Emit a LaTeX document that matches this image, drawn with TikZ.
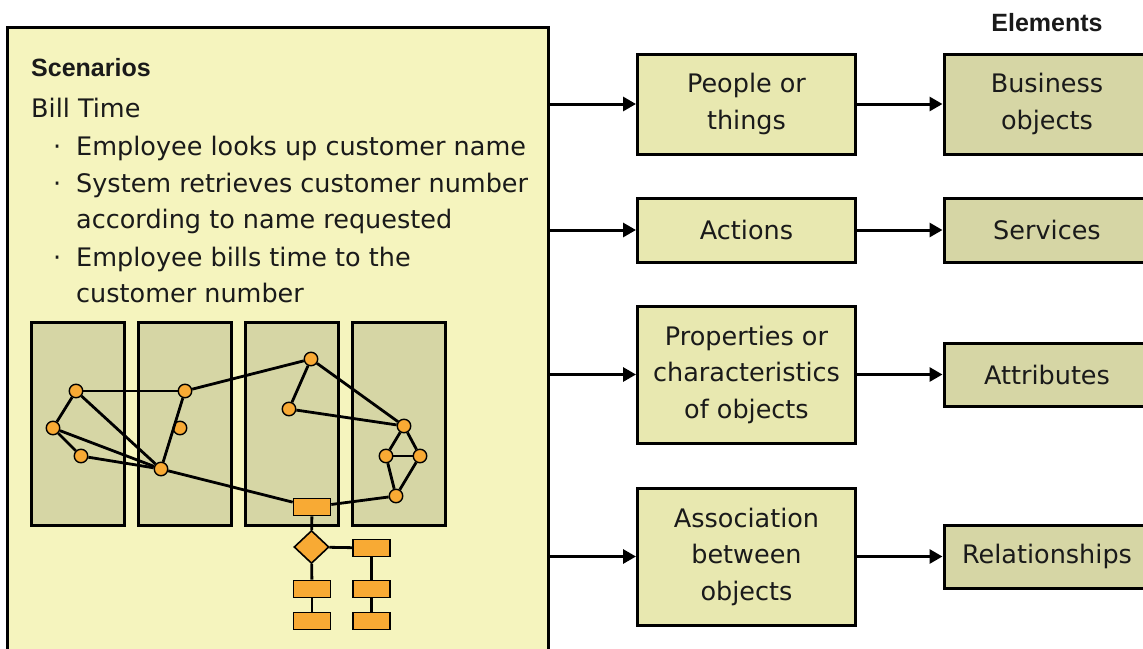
\documentclass[tikz,border=0pt]{standalone}
\usepackage{fontspec}
\setmainfont{DejaVu Sans}
\newfontfamily\headfont{Liberation Sans}
\usetikzlibrary{arrows.meta,shapes.geometric}

\definecolor{scenfill}{HTML}{F5F4BE}
\definecolor{termfill}{HTML}{E8E8B0}
\definecolor{elemfill}{HTML}{D6D6A5}
\definecolor{dotfill}{HTML}{F8AA34}
\definecolor{ink}{HTML}{1A1A1A}

\tikzset{
  bodytext/.style={font=\fontsize{25.5}{36.5}\selectfont, text=ink, inner sep=0pt},
  headtext/.style={font=\headfont\bfseries\fontsize{25}{30}\selectfont, text=ink, inner sep=0pt},
  termbox/.style={draw, line width=3pt, fill=termfill, minimum width=218,
    align=center, inner sep=0pt, font=\fontsize{25.5}{36.5}\selectfont, text=ink},
  elembox/.style={draw, line width=3pt, fill=elemfill, minimum width=206,
    align=center, inner sep=0pt, font=\fontsize{25.5}{36.5}\selectfont, text=ink},
  panel/.style={draw, line width=3pt, fill=elemfill, minimum width=93,
    minimum height=203, inner sep=0pt},
  dot/.style={circle, draw, line width=1.4pt, fill=dotfill, minimum size=13.5,
    inner sep=0pt},
  blk/.style={rectangle, draw, line width=1.6pt, fill=dotfill, minimum width=37,
    minimum height=17, inner sep=0pt},
  dia/.style={diamond, draw, line width=1.6pt, fill=dotfill, minimum width=35,
    minimum height=33, inner sep=0pt},
  link/.style={line width=2.8pt},
  flow/.style={line width=3pt, -{Triangle[length=13pt,width=14pt]}},
}

\begin{document}
\begin{tikzpicture}[x=1pt,y=-1pt]
\useasboundingbox (0,0) rectangle (1143,648);
\clip (0,0) rectangle (1143,648);
\fill[white] (0,0) rectangle (1143,648);

% scenario frame
\node[draw, line width=3pt, fill=scenfill, minimum width=541, minimum height=643,
      inner sep=0pt] (scen) at (278,348.5) {};

\node[headtext, anchor=base west] (scnhead) at (31,76) {Scenarios};
\node[bodytext, anchor=base west] (billtime) at (31,117) {Bill Time};
\node[bodytext, anchor=base west] (bul1) at (53,155) {·};
\node[bodytext, anchor=base west] (ln1) at (76,155) {Employee looks up customer name};
\node[bodytext, anchor=base west] (bul2) at (53,192) {·};
\node[bodytext, anchor=base west] (ln2) at (76,192) {System retrieves customer number};
\node[bodytext, anchor=base west] (ln3) at (76,228) {according to name requested};
\node[bodytext, anchor=base west] (bul3) at (53,266) {·};
\node[bodytext, anchor=base west] (ln4) at (76,266) {Employee bills time to the};
\node[bodytext, anchor=base west] (ln5) at (76,302) {customer number};

% four panels
\node[panel] (p1) at (77.5,424) {};
\node[panel] (p2) at (184.8,424) {};
\node[panel] (p3) at (292,424) {};
\node[panel] (p4) at (398.8,424) {};

% object graph
\node[dot] (a) at (76,391) {};
\node[dot] (b) at (53,428) {};
\node[dot] (c) at (81,456) {};
\node[dot] (d) at (185,391) {};
\node[dot] (e) at (180,428) {};
\node[dot] (f) at (161,469) {};
\node[dot] (g) at (311,359) {};
\node[dot] (h) at (289,409) {};
\node[dot] (i) at (404,426) {};
\node[dot] (j) at (386,456) {};
\node[dot] (k) at (420,456) {};
\node[dot] (l) at (396,496) {};

% flow chart
\node[blk] (r1) at (312,507) {};
\node[dia] (dm) at (311.5,547) {};
\node[blk] (r2) at (371.5,548) {};
\node[blk] (r3) at (312,589) {};
\node[blk] (r4) at (371.5,589) {};
\node[blk] (r5) at (312,621) {};
\node[blk] (r6) at (371.5,621) {};

\draw[link] (a) -- (d);
\draw[link] (a) -- (b);
\draw[link] (a) -- (f);
\draw[link] (b) -- (c);
\draw[link] (b) -- (f);
\draw[link] (c) -- (f);
\draw[link] (d) -- (f);
\draw[link] (d) -- (g);
\draw[link] (g) -- (h);
\draw[link] (g) -- (i);
\draw[link] (h) -- (i);
\draw[link] (i) -- (j);
\draw[link] (i) -- (k);
\draw[link] (j) -- (k);
\draw[link] (j) -- (l);
\draw[link] (k) -- (l);
\draw[link] (f) -- (r1);
\draw[link] (r1) -- (l);
\draw[link] (r1) -- (dm);
\draw[link] (dm) -- (r2);
\draw[link] (dm) -- (r3);
\draw[link] (r3) -- (r5);
\draw[link] (r2) -- (r4);
\draw[link] (r4) -- (r6);

% terms and elements
\node[headtext, anchor=base] (elhead) at (1047,31) {Elements};

\node[termbox, minimum height=100] (ppl) at (746.5,104) {People or\\things};
\node[termbox, minimum height=64] (act) at (746.5,230) {Actions};
\node[termbox, minimum height=137] (prop) at (746.5,374.5) {Properties or\\characteristics\\of objects};
\node[termbox, minimum height=137] (assoc) at (746.5,556.5) {Association\\between\\objects};

\node[elembox, minimum height=100] (bus) at (1047,104) {Business\\objects};
\node[elembox, minimum height=64] (svc) at (1047,230) {Services};
\node[elembox, minimum height=63] (attr) at (1047,374.5) {Attributes};
\node[elembox, minimum height=63] (rel) at (1047,556.5) {Relationships};

\draw[flow] (scen.east |- ppl.west) -- (ppl.west);
\draw[flow] (scen.east |- act.west) -- (act.west);
\draw[flow] (scen.east |- prop.west) -- (prop.west);
\draw[flow] (scen.east |- assoc.west) -- (assoc.west);

\draw[flow] (ppl.east) -- (ppl.east -| bus.west);
\draw[flow] (act.east) -- (act.east -| svc.west);
\draw[flow] (prop.east) -- (prop.east -| attr.west);
\draw[flow] (assoc.east) -- (assoc.east -| rel.west);
\end{tikzpicture}
\end{document}
